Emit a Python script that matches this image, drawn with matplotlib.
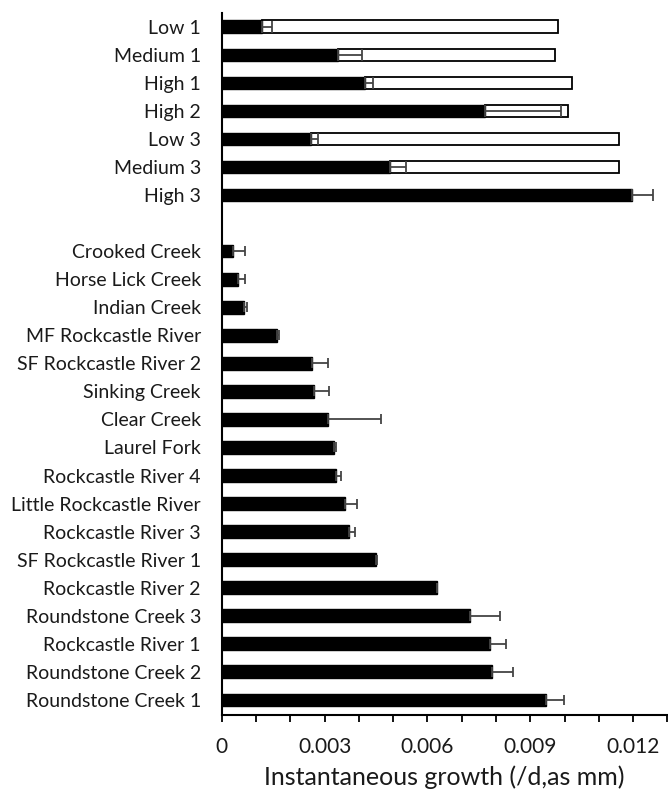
import matplotlib.pyplot as plt
import numpy as np
from matplotlib.ticker import MultipleLocator, FuncFormatter

plt.rcParams['font.family'] = ['Lato', 'DejaVu Sans']

# Experimental treatments: measured growth (black), its SE, and the total bar (white outline)
trt_names = ['Low 1', 'Medium 1', 'High 1', 'High 2', 'Low 3', 'Medium 3', 'High 3']
trt_growth = [0.00117, 0.00338, 0.00419, 0.00769, 0.00260, 0.00491, 0.01196]
trt_err = [0.00029, 0.00070, 0.00023, 0.00221, 0.00021, 0.00046, 0.00061]
trt_total = [0.00980, 0.00971, 0.01022, 0.01010, 0.01160, 0.01160, 0.01196]

# Field sites
site_names = ['Crooked Creek', 'Horse Lick Creek', 'Indian Creek', 'MF Rockcastle River',
              'SF Rockcastle River 2', 'Sinking Creek', 'Clear Creek', 'Laurel Fork',
              'Rockcastle River 4', 'Little Rockcastle River', 'Rockcastle River 3',
              'SF Rockcastle River 1', 'Rockcastle River 2', 'Roundstone Creek 3',
              'Rockcastle River 1', 'Roundstone Creek 2', 'Roundstone Creek 1']
site_growth = [0.00034, 0.00048, 0.00066, 0.00160, 0.00262, 0.00269, 0.00311, 0.00328,
               0.00332, 0.00359, 0.00371, 0.00449, 0.00627, 0.00723, 0.00782, 0.00787, 0.00947]
site_err = [0.00034, 0.00020, 0.00009, 0.00006, 0.00047, 0.00044, 0.00155, 0.00005,
            0.00015, 0.00035, 0.00017, 0.00005, 0.00000, 0.00090, 0.00048, 0.00064, 0.00051]

y_trt = np.arange(len(trt_names))
y_site = np.arange(len(site_names)) + len(trt_names) + 1

fig = plt.figure(figsize=(6.68, 7.89), dpi=100)
ax = fig.add_axes([0.332, 0.0938, 0.667, 0.890])

h = 0.45
err_kw = dict(ecolor='#444444', elinewidth=1.3, capthick=1.3)

# white remainder bars sit after the black ones
rest = np.array(trt_total) - np.array(trt_growth)
ax.barh(y_trt, rest, left=trt_growth, height=h, color='white', edgecolor='black', linewidth=1.3)
ax.barh(y_trt, trt_growth, height=h, color='black', edgecolor='black', linewidth=1.0,
        xerr=[np.zeros(len(trt_err)), trt_err], capsize=4.2, error_kw=err_kw)
ax.barh(y_site, site_growth, height=h, color='black', edgecolor='black', linewidth=1.0,
        xerr=[np.zeros(len(site_err)), site_err], capsize=3.3, error_kw=err_kw)

ax.set_yticks(list(y_trt) + list(y_site))
ax.set_yticklabels(trt_names + site_names, fontsize=14, color='#1a1a1a')
ax.tick_params(axis='y', length=0, pad=15)
ax.set_ylim(24.54, -0.5)

ax.set_xlim(0, 0.013)
ax.xaxis.set_major_locator(MultipleLocator(0.001))
ax.xaxis.set_major_formatter(FuncFormatter(
    lambda v, p: ('0' if round(v * 1000) == 0 else f'{v:.3f}') if round(v * 1000) % 3 == 0 else ''))
ax.tick_params(axis='x', direction='out', length=5, width=1.3, labelsize=15,
               labelcolor='#1a1a1a', pad=11)
ax.set_xlabel('Instantaneous growth (/d,as mm)', fontsize=18, color='#1a1a1a', labelpad=6)

for s in ['top', 'right']:
    ax.spines[s].set_visible(False)
for s in ['left', 'bottom']:
    ax.spines[s].set_linewidth(1.5)

fig.savefig('out.png', dpi=100)
